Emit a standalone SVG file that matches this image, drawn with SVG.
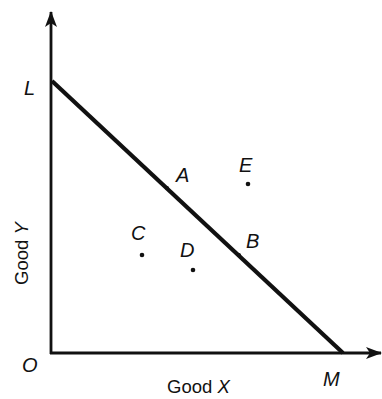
<svg xmlns="http://www.w3.org/2000/svg" width="382" height="399" viewBox="0 0 382 399">
<style>
.lbl{font-family:"Liberation Sans",Arial,sans-serif;font-style:italic;font-size:20px;fill:#111}
.ax{font-family:"Liberation Sans",Arial,sans-serif;font-size:18.5px;fill:#111}
.axis{stroke:#111;stroke-width:2.8;fill:none}
.dot{fill:#111}
</style>
<defs>
<marker id="ah" viewBox="0 0 16 12" refX="15" refY="6" markerWidth="16" markerHeight="12" markerUnits="userSpaceOnUse" orient="auto">
<path d="M0,0 L16,6 L0,12 L4,6 Z" fill="#111"/>
</marker>
</defs>
<rect width="382" height="399" fill="#fff"/>
<g id="connectors">
<line class="axis" x1="51" y1="354" x2="51" y2="12" marker-end="url(#ah)"/>
<line class="axis" x1="50" y1="353" x2="381" y2="353" marker-end="url(#ah)"/>
<line x1="52" y1="81" x2="343" y2="353" stroke="#111" stroke-width="4.2"/>
</g>
<g id="L"><text class="lbl" x="24" y="95">L</text></g>
<g id="O"><text class="lbl" x="22" y="372">O</text></g>
<g id="M"><text class="lbl" x="323" y="386">M</text></g>
<g id="A"><circle class="dot" cx="167" cy="188" r="2"/><text class="lbl" x="176" y="182">A</text></g>
<g id="E"><circle class="dot" cx="248" cy="184" r="2.3"/><text class="lbl" x="239" y="172">E</text></g>
<g id="B"><circle class="dot" cx="239" cy="255" r="2"/><text class="lbl" x="246" y="248">B</text></g>
<g id="C"><circle class="dot" cx="142" cy="255" r="2.3"/><text class="lbl" x="131" y="240">C</text></g>
<g id="D"><circle class="dot" cx="193" cy="270" r="2.3"/><text class="lbl" x="180" y="257">D</text></g>
<g id="goodX"><text class="ax" x="167" y="393">Good <tspan font-style="italic">X</tspan></text></g>
<g id="goodY"><text class="ax" transform="translate(28,285) rotate(-90)">Good <tspan font-style="italic">Y</tspan></text></g>
</svg>
